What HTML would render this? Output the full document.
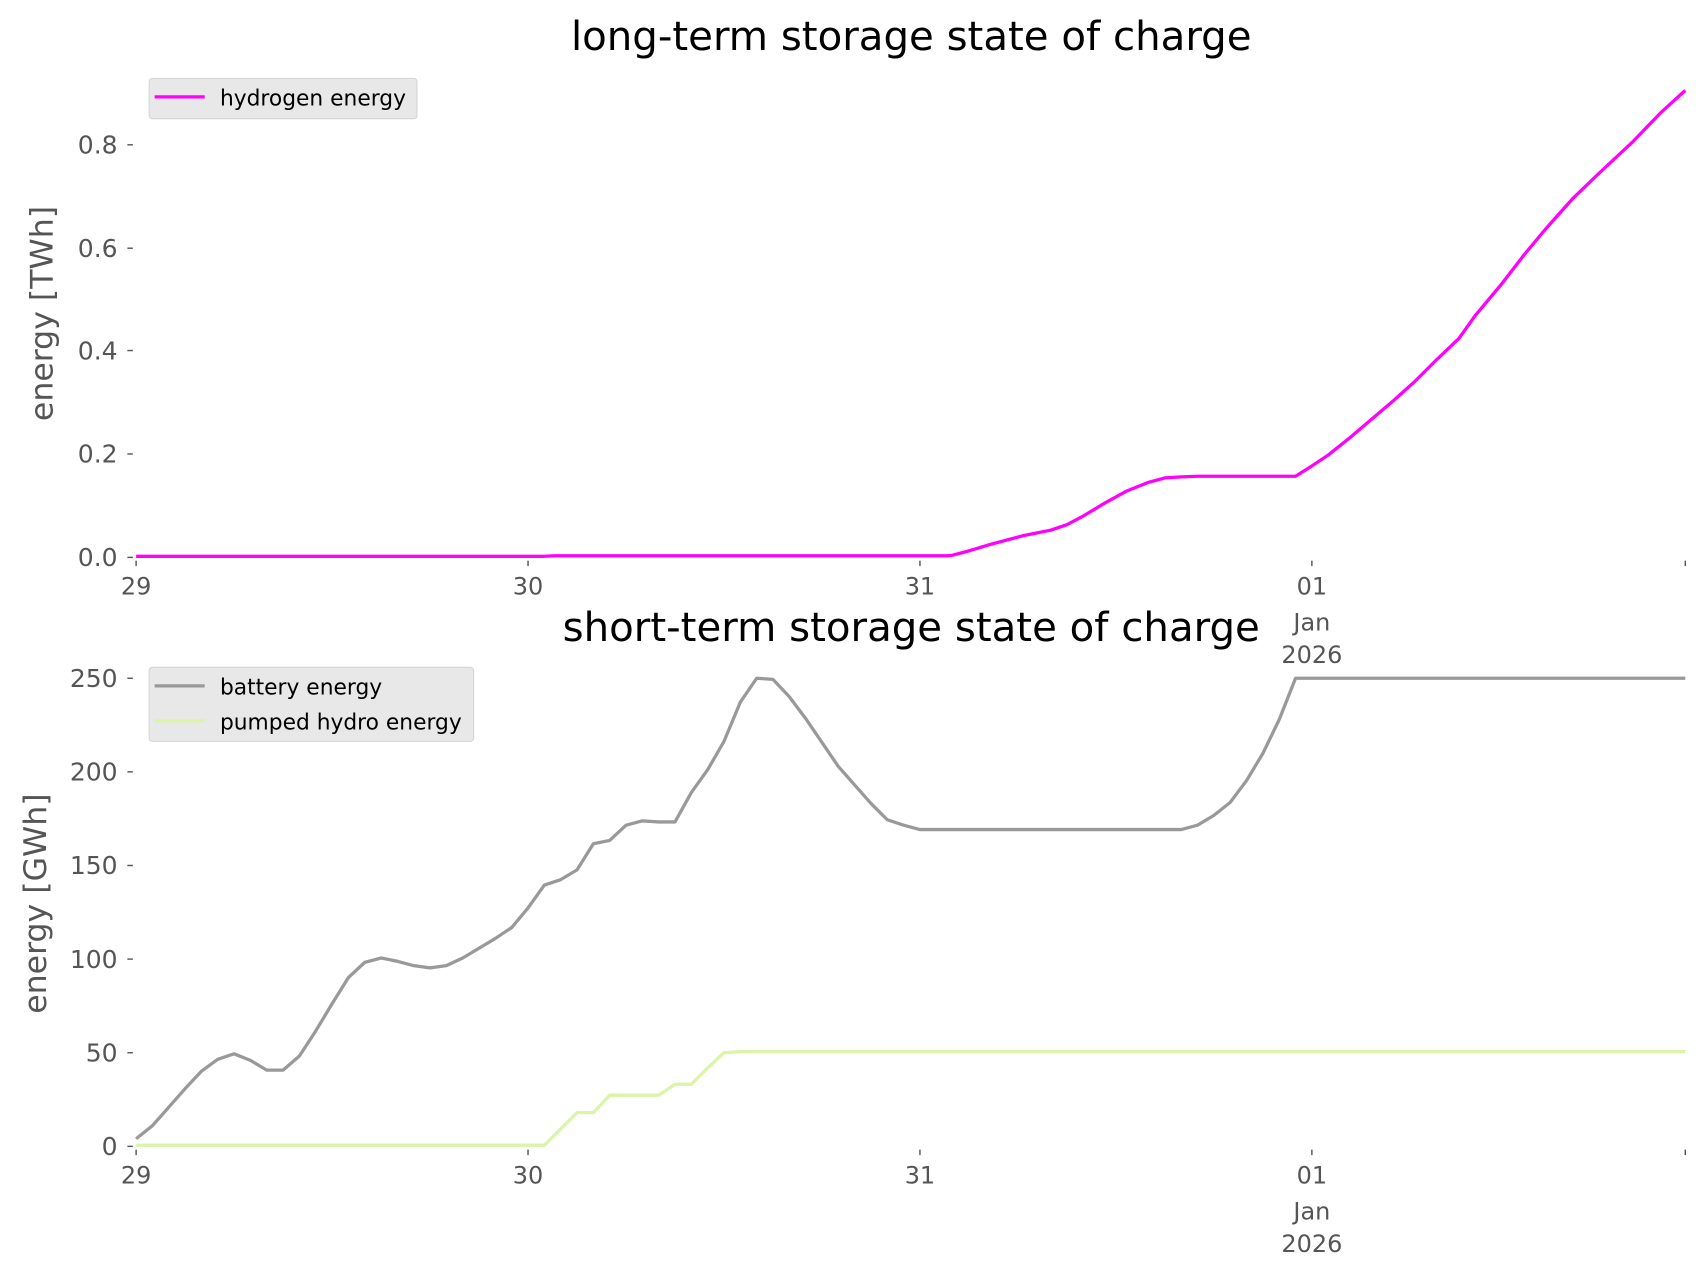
<!DOCTYPE html>
<html><head><meta charset="utf-8"><style>html,body{margin:0;padding:0;background:#fff}svg{display:block}</style></head>
<body>
<svg width="1706" height="1277" viewBox="0 0 1567 1173" xmlns="http://www.w3.org/2000/svg" font-family="'DejaVu Sans','Liberation Sans',sans-serif">
<rect width="1567" height="1173" fill="#fff"/>
<!-- TOP -->
<text x="837" y="46" font-size="37" text-anchor="middle" fill="#000">long-term storage state of charge</text>
<g fill="#555" font-size="23" text-anchor="end">
<text x="108" y="520">0.0</text><text x="108" y="425">0.2</text><text x="108" y="330">0.4</text><text x="108" y="236">0.6</text><text x="108" y="141">0.8</text>
</g>
<g stroke="#555" stroke-width="1.3">
<line x1="117" y1="512" x2="122" y2="512"/><line x1="117" y1="417" x2="122" y2="417"/><line x1="117" y1="322" x2="122" y2="322"/><line x1="117" y1="228" x2="122" y2="228"/><line x1="117" y1="133" x2="122" y2="133"/>
<line x1="125" y1="515" x2="125" y2="520"/><line x1="485" y1="515" x2="485" y2="520"/><line x1="845" y1="515" x2="845" y2="520"/><line x1="1205" y1="515" x2="1205" y2="520"/><line x1="1548" y1="515" x2="1548" y2="520"/>
</g>
<g fill="#555" font-size="22" text-anchor="middle">
<text x="125" y="546">29</text><text x="485" y="546">30</text><text x="845" y="546">31</text>
<text x="1205" y="546">01</text><text x="1205" y="579">Jan</text><text x="1205" y="609">2026</text>
</g>
<text transform="translate(48,288) rotate(-90)" font-size="29" fill="#555" text-anchor="middle">energy [TWh]</text>
<polyline fill="none" stroke="#ff00ff" stroke-width="3" stroke-linejoin="round" points="125,511 500,511 510,510.5 870,510.5 875,510 890,506 910,500 940,492 965,487 980,482 995,474 1015,462 1035,451 1055,443 1070,439 1085,438 1100,437.5 1190,437.5 1205,428 1220,418 1240,402 1260,385 1280,368 1300,350 1320,330 1340,311 1355,290 1380,260 1400,234 1420,210 1445,182 1470,158 1500,130 1525,104 1548,83"/>
<rect x="137" y="72" width="246" height="37" rx="3" fill="#e8e8e8" stroke="#d4d4d4"/>
<line x1="142" y1="89" x2="188" y2="89" stroke="#ff00ff" stroke-width="3"/>
<text x="202" y="97" font-size="20" fill="#000">hydrogen energy</text>

<!-- BOTTOM -->
<text x="837" y="589" font-size="37" text-anchor="middle" fill="#000">short-term storage state of charge</text>
<g fill="#555" font-size="23" text-anchor="end">
<text x="108" y="1061">0</text><text x="108" y="975">50</text><text x="108" y="889">100</text><text x="108" y="803">150</text><text x="108" y="717">200</text><text x="108" y="631">250</text>
</g>
<g stroke="#555" stroke-width="1.3">
<line x1="117" y1="1053" x2="122" y2="1053"/><line x1="117" y1="967" x2="122" y2="967"/><line x1="117" y1="881" x2="122" y2="881"/><line x1="117" y1="795" x2="122" y2="795"/><line x1="117" y1="709" x2="122" y2="709"/><line x1="117" y1="623" x2="122" y2="623"/>
<line x1="125" y1="1056" x2="125" y2="1061"/><line x1="485" y1="1056" x2="485" y2="1061"/><line x1="845" y1="1056" x2="845" y2="1061"/><line x1="1205" y1="1056" x2="1205" y2="1061"/><line x1="1548" y1="1056" x2="1548" y2="1061"/>
</g>
<g fill="#555" font-size="22" text-anchor="middle">
<text x="125" y="1087">29</text><text x="485" y="1087">30</text><text x="845" y="1087">31</text>
<text x="1205" y="1087">01</text><text x="1205" y="1120">Jan</text><text x="1205" y="1150">2026</text>
</g>
<text transform="translate(42,830) rotate(-90)" font-size="29" fill="#555" text-anchor="middle">energy [GWh]</text>
<polyline fill="none" stroke="#d9f5a5" stroke-width="3" stroke-linejoin="round" points="125,1052 500,1052 515,1037 530,1022 545,1022 560,1006 605,1006 620,996 635,996 650,981 665,967 680,966 1548,966"/>
<polyline fill="none" stroke="#999" stroke-width="3" stroke-linejoin="round" points="125,1046 140,1034 155,1017 170,1000 185,984 200,973 215,968 230,974 245,983 260,983 275,970 290,947 305,922 320,898 335,884 350,880 365,883 380,887 395,889 410,887 425,880 440,871 455,862 470,852 485,834 500,813 515,808 530,799 545,775 560,772 575,758 590,754 605,755 620,755 635,728 650,707 665,681 680,645 695,623 710,624 725,640 740,660 755,682 770,704 785,721 800,738 815,753 830,758 845,762 1085,762 1100,758 1115,749 1130,737 1145,717 1160,692 1175,661 1190,623 1548,623"/>
<rect x="137" y="613" width="298" height="68" rx="3" fill="#e8e8e8" stroke="#d4d4d4"/>
<line x1="142" y1="630" x2="188" y2="630" stroke="#999" stroke-width="3"/>
<line x1="142" y1="662" x2="188" y2="662" stroke="#d9f5a5" stroke-width="3"/>
<text x="202" y="638" font-size="20" fill="#000">battery energy</text>
<text x="202" y="670" font-size="20" fill="#000">pumped hydro energy</text>
</svg>
</body></html>
